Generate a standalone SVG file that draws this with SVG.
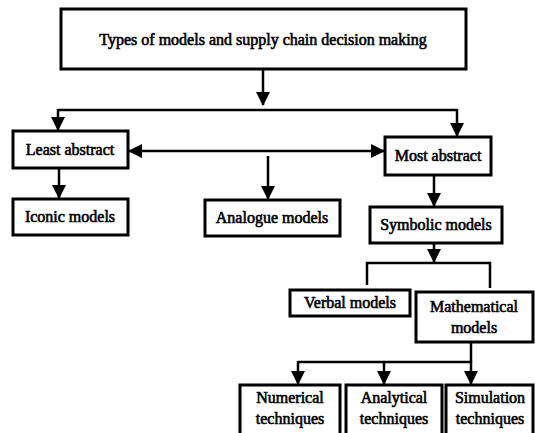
<svg xmlns="http://www.w3.org/2000/svg" width="535" height="433" viewBox="0 0 535 433">
<defs>
<marker id="ah" markerUnits="userSpaceOnUse" markerWidth="14" markerHeight="14" refX="13" refY="7" orient="auto-start-reverse" viewBox="0 0 14 14">
<path d="M0,0 L14,7 L0,14 z" fill="#000"/>
</marker>
<style>
.box{fill:#fff;stroke:#000;stroke-width:3}
.t{font-family:"Liberation Serif","Times New Roman",serif;font-size:16px;fill:#000;stroke:#000;stroke-width:0.6;text-anchor:middle}
.c{fill:none;stroke:#000;stroke-width:2.5}
.ca{fill:none;stroke:#000;stroke-width:2.5;marker-end:url(#ah)}
</style>
</defs>
<rect width="535" height="433" fill="#fff"/>
<g id="connectors">
<path class="ca" d="M263,69 V105"/>
<path class="c" d="M58,110 H457"/>
<path class="ca" d="M58,109 V130"/>
<path class="ca" d="M457,109 V136"/>
<path class="ca" d="M129,151 H384" style="marker-start:url(#ah)"/>
<path class="ca" d="M59,168 V198"/>
<path class="ca" d="M268,156 V199"/>
<path class="ca" d="M434,175 V206"/>
<path class="ca" d="M434,243 V262"/>
<path class="c" d="M367,285 V263 H490 V288"/>
<path class="c" d="M471,342 V362"/>
<path class="c" d="M298,362 H472"/>
<path class="ca" d="M298,361 V384"/>
<path class="ca" d="M384,361 V384"/>
<path class="ca" d="M471,361 V384"/>
</g>
<g id="n-root"><rect class="box" x="61" y="9" width="405" height="60"/><text class="t" x="263" y="45">Types of models and supply chain decision making</text></g>
<g id="n-least"><rect class="box" x="13" y="131" width="115" height="37"/><text class="t" x="70" y="155">Least abstract</text></g>
<g id="n-most"><rect class="box" x="385" y="137" width="106" height="38"/><text class="t" x="438" y="161">Most abstract</text></g>
<g id="n-iconic"><rect class="box" x="13" y="199" width="115" height="36"/><text class="t" x="70" y="222">Iconic models</text></g>
<g id="n-analogue"><rect class="box" x="205" y="200" width="135" height="36"/><text class="t" x="272" y="223">Analogue models</text></g>
<g id="n-symbolic"><rect class="box" x="370" y="207" width="132" height="36"/><text class="t" x="436" y="230">Symbolic models</text></g>
<g id="n-verbal"><rect class="box" x="290" y="290" width="120" height="26"/><text class="t" x="350" y="308">Verbal models</text></g>
<g id="n-math"><rect class="box" x="416" y="292" width="117" height="50"/><text class="t" x="474" y="312">Mathematical</text><text class="t" x="474" y="333">models</text></g>
<g id="n-numerical"><rect class="box" x="240" y="385" width="100" height="60"/><text class="t" x="290" y="403">Numerical</text><text class="t" x="290" y="424">techniques</text></g>
<g id="n-analytical"><rect class="box" x="346" y="385" width="96" height="60"/><text class="t" x="394" y="403">Analytical</text><text class="t" x="394" y="424">techniques</text></g>
<g id="n-simulation"><rect class="box" x="446" y="385" width="87" height="60"/><text class="t" x="490" y="403">Simulation</text><text class="t" x="490" y="424">techniques</text></g>
</svg>
